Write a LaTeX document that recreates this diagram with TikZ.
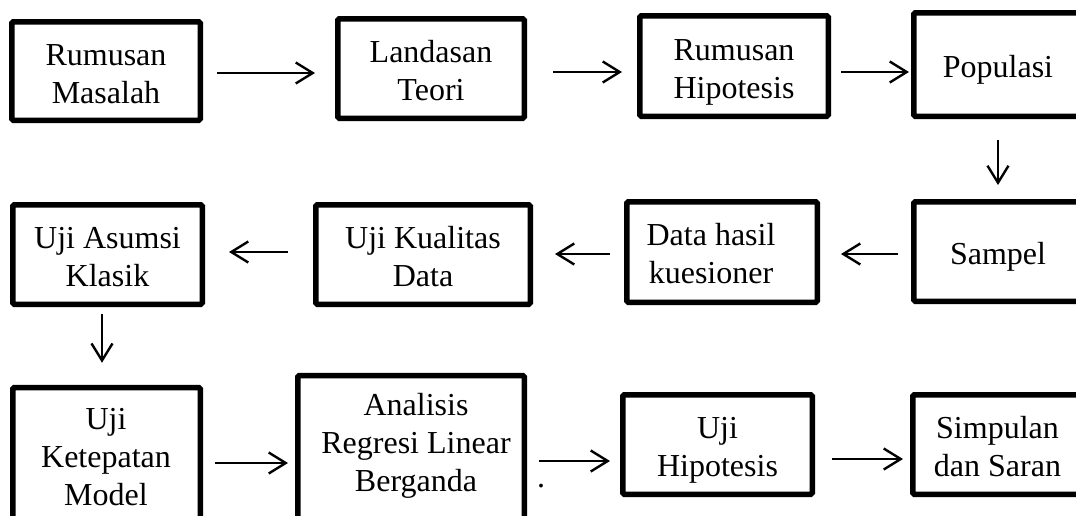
\documentclass[tikz,border=0pt]{standalone}
\usepackage{fontspec}
\setmainfont{Liberation Serif}
\usetikzlibrary{arrows.meta}
\newcommand\fst{\rule[-7pt]{0pt}{40.5pt}}
\newcommand\lst{\rule[-7pt]{0pt}{34.5pt}}
\begin{document}
\begin{tikzpicture}[x=1pt,y=-1pt,
  box/.style={draw, line width=5.5pt, inner sep=0pt, rounded corners=1.5pt,
    align=center, font=\fontsize{32pt}{38pt}\selectfont},
  txt/.style={inner sep=0pt, align=center, font=\fontsize{32pt}{38pt}\selectfont},
  arr/.style={line width=2.4pt, -{Straight Barb[length=17pt,width=21pt,line width=2.4pt]}}]
\useasboundingbox (0,0) rectangle (1076,515);
\clip (0,0) rectangle (1076,515);
\fill[white] (0,0) rectangle (1076,515);
% row 1
\node[box, minimum width=188.5pt, minimum height=98.5pt] (RM) at (106,71) {\fst Rumusan\\\lst Masalah};
\node[box, minimum width=186.5pt, minimum height=99.5pt] (LT) at (431,68.5) {\fst Landasan\\\lst Teori};
\node[box, minimum width=188.5pt, minimum height=100.5pt] (RH) at (734,66) {\fst Rumusan\\\lst Hipotesis};
\node[box, minimum width=168.5pt, minimum height=103.5pt] (PO) at (998,64.5) {\fst Populasi};
% row 2
\node[box, minimum width=168.5pt, minimum height=99.5pt] (SA) at (998,251.5) {\fst Sampel};
\node[box, minimum width=190.5pt, minimum height=100.5pt] (DH) at (722,252) {};
\node[txt] (tDH) at (711,251) {\fst Data hasil\\\lst kuesioner};
\node[box, minimum width=214.5pt, minimum height=99.5pt] (UK) at (423,254.5) {\fst Uji Kualitas\\\lst Data};
\node[box, minimum width=189.5pt, minimum height=99.5pt] (UA) at (107.5,254.5) {\fst Uji Asumsi\\\lst Klasik};
% row 3
\node[box, minimum width=187.5pt, minimum height=150pt] (UKM) at (106.5,462.5) {};
\node[txt] (tUKM) at (106,454) {\fst Uji\\\lst Ketepatan\\\lst Model};
\node[box, minimum width=226.5pt, minimum height=162pt] (AR) at (411,456.5) {};
\node[txt] (tAR) at (416,440) {\fst Analisis\\\lst Regresi Linear\\\lst Berganda};
\node[txt, anchor=base] (dot) at (541,487) {.};
\node[box, minimum width=189.5pt, minimum height=99.5pt] (UH) at (717.5,444.5) {\fst Uji\\\lst Hipotesis};
\node[box, minimum width=169.5pt, minimum height=99.5pt] (SS) at (997.5,444.5) {\fst Simpulan\\\lst dan Saran};
% connectors
\draw[arr] ([xshift=14pt,yshift=-2pt]RM.east) -- ([xshift=-20pt,yshift=-4.5pt]LT.west);
\draw[arr] ([xshift=26pt,yshift=-3.5pt]LT.east) -- ([xshift=-15pt,yshift=-6pt]RH.west);
\draw[arr] ([xshift=10pt,yshift=-6pt]RH.east) -- ([xshift=-2pt,yshift=-7.5pt]PO.west);
\draw[arr] ([yshift=-21pt]PO.south) -- ([yshift=14pt]SA.north);
\draw[arr] ([xshift=-13pt,yshift=-2.5pt]SA.west) -- ([xshift=21pt,yshift=-2pt]DH.east);
\draw[arr] ([xshift=-14pt,yshift=-2pt]DH.west) -- ([xshift=22pt,yshift=0.5pt]UK.east);
\draw[arr] ([xshift=-25pt,yshift=2.5pt]UK.west) -- ([xshift=24pt,yshift=2.5pt]UA.east);
\draw[arr] ([xshift=-5.5pt,yshift=-7pt]UA.south) -- ([xshift=-4.5pt,yshift=22pt]UKM.north);
\draw[arr] ([xshift=12pt,yshift=-0.5pt]UKM.east) -- ([xshift=-7pt,yshift=-6.5pt]AR.west);
\draw[arr] ([xshift=12pt,yshift=-4.5pt]AR.east) -- ([xshift=-10pt,yshift=-16.5pt]UH.west);
\draw[arr] ([xshift=17pt,yshift=-14.5pt]UH.east) -- ([xshift=-7pt,yshift=-14.5pt]SS.west);
\end{tikzpicture}
\end{document}
